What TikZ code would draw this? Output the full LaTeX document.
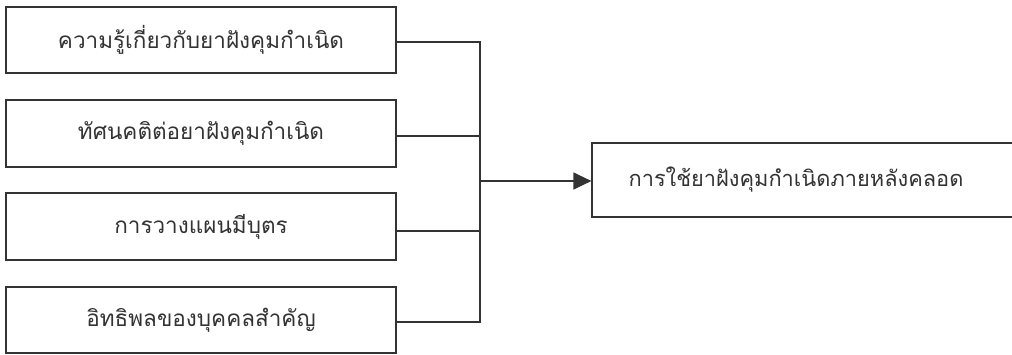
\documentclass[tikz,border=0pt]{standalone}
\usepackage{fontspec}
\newfontfamily\thaifont[Script=Thai]{Loma}
\usetikzlibrary{arrows.meta}
\definecolor{linec}{HTML}{333333}
\begin{document}
\begin{tikzpicture}[x=1pt,y=-1pt,
  box/.style={draw=linec,line width=1.2pt,rectangle,inner sep=0pt},
  conn/.style={draw=linec,line width=1.2pt},
  lbl/.style={font=\thaifont\fontsize{22.5}{26}\selectfont,text=linec}]
\useasboundingbox (0,0) rectangle (1012,354);
\begin{scope}
\clip (0,0) rectangle (1012,354);
\node[box,minimum width=390pt,minimum height=66pt] (b1) at (201,40) {};
\node[box,minimum width=390pt,minimum height=67pt] (b2) at (201,133.5) {};
\node[box,minimum width=390pt,minimum height=67pt] (b3) at (201,226.5) {};
\node[box,minimum width=390pt,minimum height=66pt] (b4) at (201,320) {};
\node[box,minimum width=440pt,minimum height=74pt] (out) at (812,180) {};
\end{scope}
\node[lbl] (t1) at (201,40) {ความรู้เกี่ยวกับยาฝังคุมกำเนิด};
\node[lbl] (t2) at (201,133.5) {ทัศนคติต่อยาฝังคุมกำเนิด};
\node[lbl] (t3) at (201,226.5) {การวางแผนมีบุตร};
\node[lbl] (t4) at (201,320) {อิทธิพลของบุคคลสำคัญ};
\node[lbl,font=\thaifont\fontsize{21.8}{26}\selectfont] (t5) at (796,180) {การใช้ยาฝังคุมกำเนิดภายหลังคลอด};
\coordinate (j1) at (480,42);
\coordinate (j4) at (480,322);
\coordinate (jm) at (480,181);
\draw[conn] ([yshift=-2pt]b1.east) -- (j1) -- (j4) -- ([yshift=-2pt]b4.east);
\draw[conn] ([yshift=-2.5pt]b2.east) -- (480,136);
\draw[conn] ([yshift=-4.5pt]b3.east) -- (480,231);
\draw[conn,-{Triangle[length=18pt,width=17pt]}] (jm) -- (out.west|-jm);
\end{tikzpicture}
\end{document}
